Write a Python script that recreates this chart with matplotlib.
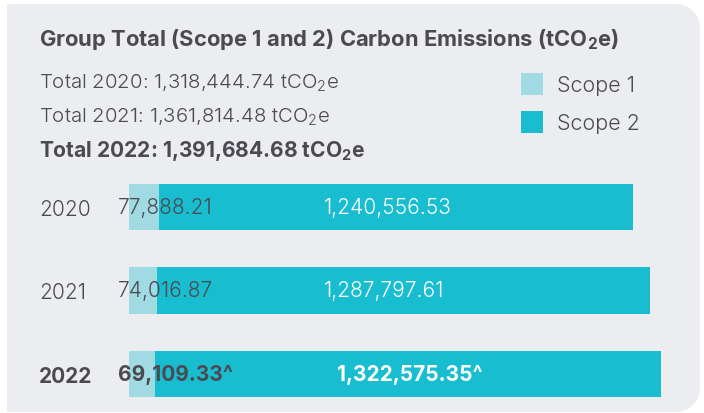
import numpy as np
import matplotlib
matplotlib.use("Agg")
import matplotlib.pyplot as plt
from matplotlib.path import Path
from matplotlib.patches import PathPatch
from matplotlib.transforms import Affine2D

plt.rcParams['font.family'] = ['Inter', 'DejaVu Sans']
plt.rcParams['mathtext.default'] = 'regular'

# emissions by year, tCO2e
years = ['2020', '2021', '2022']
scope1 = [77888.21, 74016.87, 69109.33]
scope2 = [1240556.53, 1287797.61, 1322575.35]
totals = [1318444.74, 1361814.48, 1391684.68]
marks = ['', '', '^']  # 2022 figures carry a footnote mark

TEXT = '#4a4a50'
C1 = '#a0dbe3'
C2 = '#18bdd0'
PANEL = '#ecedf1'
LIGHT = 300

W, H = 704, 414
fig = plt.figure(figsize=(W / 100, H / 100), dpi=100)
px = Affine2D().scale(1 / W, -1 / H).translate(0, 1) + fig.transFigure

# grey card with rounded right-hand corners
x0, y0, x1, y1, r = 7, 5, 700, 413, 24
t = np.linspace(0, np.pi / 2, 20)
pts = [(x0, y0)]
pts += [(x1 - r + r * np.sin(a), y0 + r - r * np.cos(a)) for a in t]
pts += [(x1 - r + r * np.cos(a), y1 - r + r * np.sin(a)) for a in t]
pts += [(x0, y1), (x0, y0)]
fig.add_artist(PathPatch(Path(pts, closed=True), facecolor=PANEL,
                         edgecolor='none', transform=px, zorder=-5))

# header text
fig.text(39 / W, 1 - 40 / H, 'Group Total (Scope 1 and 2) Carbon Emissions (tCO$_2$e)',
         fontsize=15.8, weight='bold', color=TEXT, va='center')
for i, (yr, tot) in enumerate(zip(years, totals)):
    bold = i == len(years) - 1
    fig.text(39 / W, 1 - (83 + 34 * i) / H, f'Total {yr}: {tot:,.2f} tCO$_2$e',
             fontsize=15.1 if bold else 14.7, weight='bold' if bold else LIGHT,
             color=TEXT, va='center')

# legend
for i, (lab, c) in enumerate([('Scope 1', C1), ('Scope 2', C2)]):
    yc = 85 + 38 * i
    fig.add_artist(plt.Rectangle((521, yc - 11), 22, 22, facecolor=c,
                                 edgecolor='none', transform=px))
    fig.text(557 / W, 1 - (yc + 1) / H, lab, fontsize=15.5, weight=LIGHT,
             color=TEXT, va='center')

# stacked horizontal bars
k = 3.823e-4  # pixels per tCO2e
ax = fig.add_axes([129 / W, 0, 540 / W, 244 / H])
ax.set_xlim(0, 540 / k)
ax.set_ylim(2.467, -0.455)
ax.patch.set_alpha(0)
for s in ax.spines.values():
    s.set_visible(False)
ax.set_xticks([])

ypos = np.arange(len(years))
ax.barh(ypos, scope1, height=0.551, color=C1)
ax.barh(ypos, scope2, left=scope1, height=0.551, color=C2)

ax.set_yticks(ypos)
ax.set_yticklabels(years, fontsize=15, color=TEXT, ha='left')
ax.tick_params(axis='y', length=0, pad=(129 - 39) * 0.72)
for lab in ax.get_yticklabels():
    lab.set_fontweight(LIGHT)
ax.get_yticklabels()[-1].set_fontweight('bold')

for i in ypos:
    bold = i == len(years) - 1
    w = 'bold' if bold else LIGHT
    ax.text(-11 / k, i, f'{scope1[i]:,.2f}{marks[i]}', fontsize=15, weight=w,
            color=TEXT, va='center', ha='left', clip_on=False)
    x2 = (337 if bold else 324) - 129
    ax.text(x2 / k, i, f'{scope2[i]:,.2f}{marks[i]}', fontsize=15, weight=w,
            color='white', va='center', ha='left')

fig.savefig('out.png', dpi=100)
